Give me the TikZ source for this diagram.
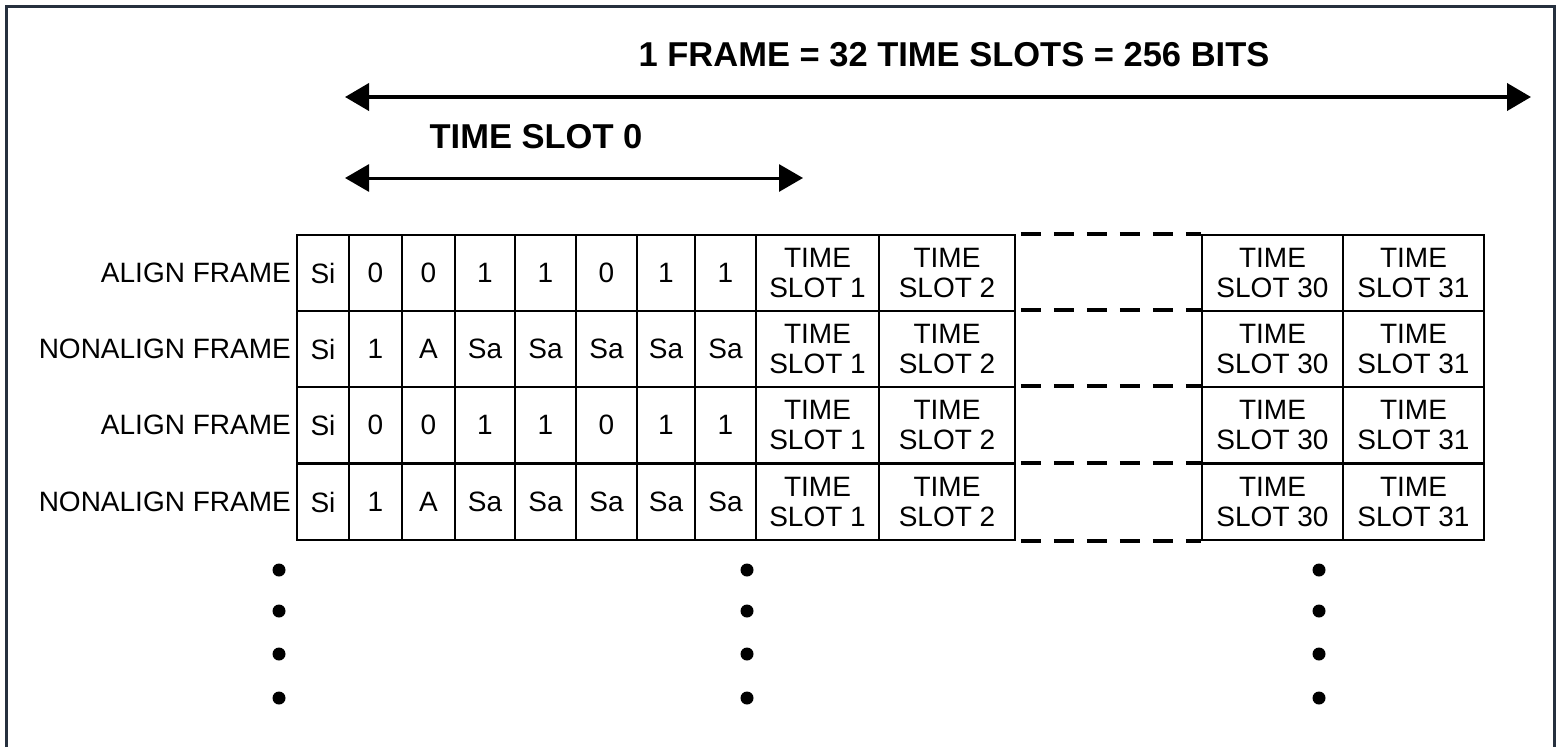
\documentclass[tikz,border=0pt]{standalone}
\usepackage{fontspec}
\setmainfont{Liberation Sans}
\usetikzlibrary{arrows.meta, positioning}
\definecolor{framegray}{RGB}{38, 48, 62}

\tikzset{
  cell/.style={draw, line width=1.5pt, minimum height=76pt, inner sep=0pt, align=center, font=\fontsize{28}{30}\selectfont},
  rowlabel/.style={anchor=east, inner sep=0pt, font=\fontsize{28}{30}\selectfont},
  dimlabel/.style={inner sep=0pt, font=\fontsize{34.5}{36}\selectfont\bfseries},
  dimarrow/.style={{Triangle[length=24pt, width=27pt]}-{Triangle[length=24pt, width=27pt]}},
  gapline/.style={line width=4pt, dash pattern=on 20pt off 13pt},
  dot/.style={circle, fill, inner sep=0pt, minimum size=13pt}
}

\begin{document}
\begin{tikzpicture}[x=1pt, y=-1pt]
  \useasboundingbox (0,0) rectangle (1557,747);
  \draw[framegray, line width=3pt] (6,747) -- (6,6) -- (1554,6) -- (1554,747);

  % Frame and time slot 0
  \node[dimlabel] (frametitle) at (954,55) {1 FRAME = 32 TIME SLOTS = 256 BITS};
  \coordinate (frameL) at (345,97);
  \coordinate (frameR) at (1531,97);
  \draw[dimarrow, line width=4pt] (frameL) -- (frameR);

  \node[dimlabel] (ts0title) at (536,137) {TIME SLOT 0};
  \coordinate (ts0L) at (345,178);
  \coordinate (ts0R) at (803,178);
  \draw[dimarrow, line width=3pt] (ts0L) -- (ts0R);

  % Frames
  \foreach \y/\lab/\bits/\r in {273/ALIGN FRAME/{Si,0,0,1,1,0,1,1}/1, 349/NONALIGN FRAME/{Si,1,A,Sa,Sa,Sa,Sa,Sa}/2, 425/ALIGN FRAME/{Si,0,0,1,1,0,1,1}/3, 502/NONALIGN FRAME/{Si,1,A,Sa,Sa,Sa,Sa,Sa}/4} {
    \node[rowlabel] (lab\r) at (291,\y) {\lab};
    \foreach \t [count=\c] in \bits {
      \pgfmathsetmacro\xl{{297,349,402,455,515,576,637,695,756}[\c-1]}
      \pgfmathsetmacro\xr{{297,349,402,455,515,576,637,695,756}[\c]}
      \node[cell, minimum width={\xr-\xl}] (b\r-\c) at ({(\xl+\xr)/2},\y) {\t};
    }
    \foreach \xl/\xr/\t [count=\c] in {756/879/1, 879/1015/2, 1202/1343/30, 1343/1484/31}
      \node[cell, minimum width={\xr-\xl}] (t\r-\c) at ({(\xl+\xr)/2},\y) {TIME\\SLOT \t};
    \draw[gapline] ([xshift=5pt]t\r-2.north east) -- (t\r-3.north west);
  }
  \draw[gapline] ([xshift=5pt]t4-2.south east) -- (t4-3.south west);

  % More frames
  \foreach \x in {279,747,1319}
    \foreach \y [count=\k] in {570,611,654,698}
      \node[dot] (dot\x-\k) at (\x,\y) {};
\end{tikzpicture}
\end{document}
